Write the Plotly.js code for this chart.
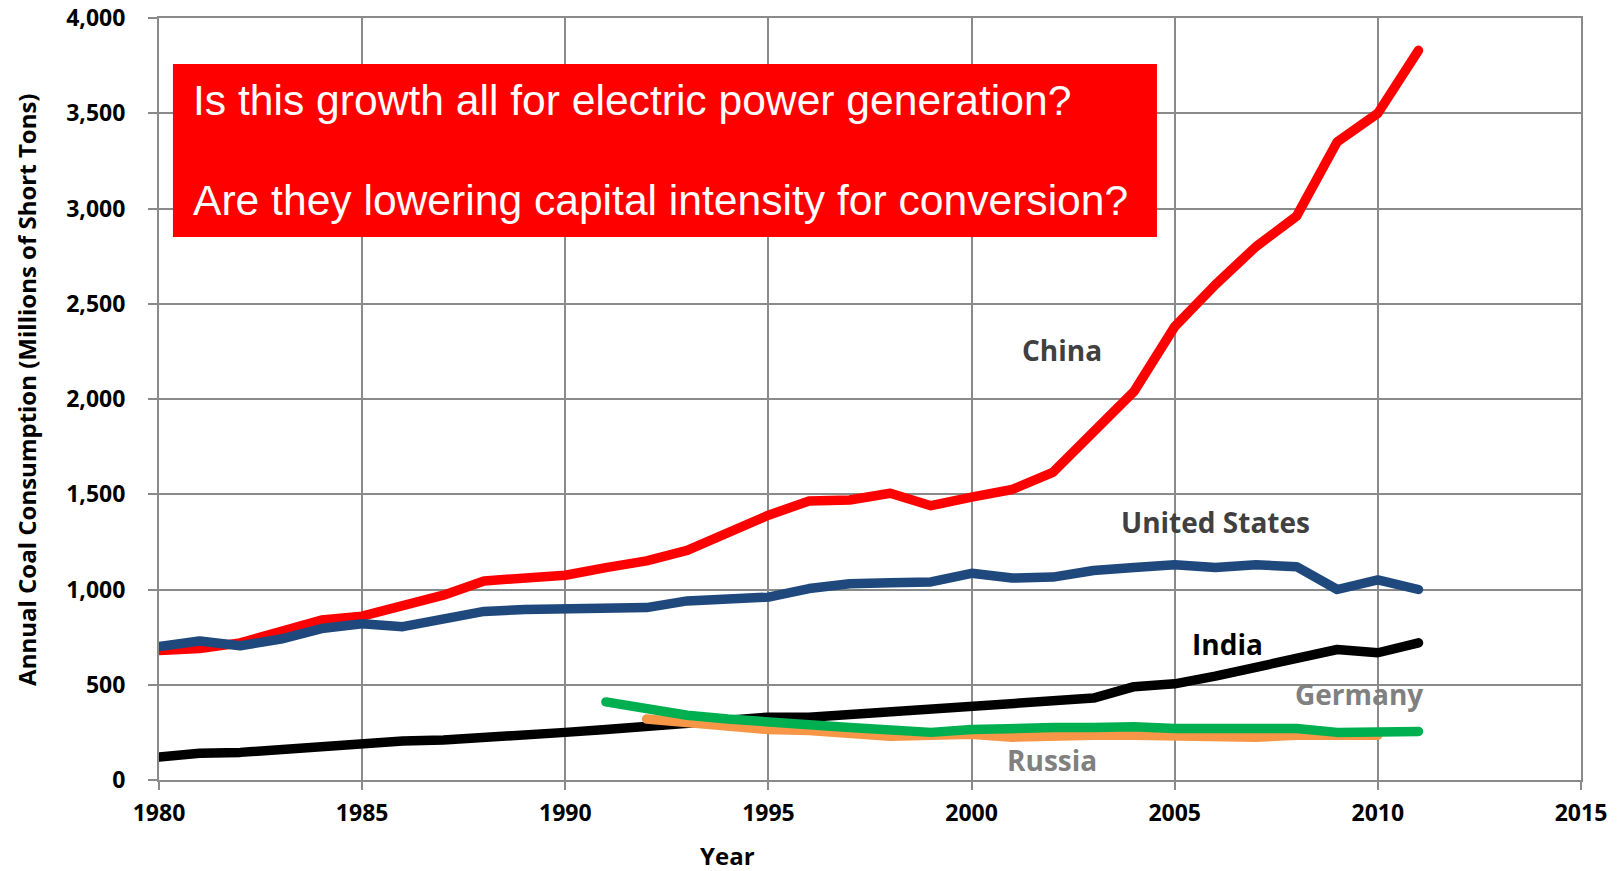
<!DOCTYPE html>
<html>
<head>
<meta charset="utf-8">
<script src="https://cdn.plot.ly/plotly-3.0.1.min.js"></script>
<style>
  html, body { margin: 0; padding: 0; background: #ffffff; }
  #chart { width: 1618px; height: 871px; }
  .scatterlayer .js-line { stroke-linejoin: round; stroke-linecap: round; }
</style>
</head>
<body>
<div id="chart"></div>
<script>
// Annual coal consumption, millions of short tons
const years = [1980, 1981, 1982, 1983, 1984, 1985, 1986, 1987, 1988, 1989,
               1990, 1991, 1992, 1993, 1994, 1995, 1996, 1997, 1998, 1999,
               2000, 2001, 2002, 2003, 2004, 2005, 2006, 2007, 2008, 2009,
               2010, 2011];
const china = [680, 690, 720, 780, 840, 860, 910, 970, 1045, 1060,
               1075, 1115, 1150, 1205, 1300, 1390, 1465, 1470, 1505, 1440,
               1485, 1525, 1615, 1835, 2040, 2380, 2600, 2800, 2960, 3350,
               3500, 3830];
const unitedStates = [700, 730, 705, 740, 795, 820, 805, 840, 885, 895,
                      900, 895, 905, 940, 950, 960, 1005, 1030, 1035, 1040,
                      1085, 1060, 1065, 1100, 1115, 1130, 1115, 1130, 1120, 1000,
                      1050, 1000];
const india = [120, 140, 145, 160, 185, 195, 205, 210, 220, 235,
               250, 265, 280, 295, 315, 330, 330, 345, 360, 380,
               395, 410, 415, 430, 490, 505, 545, 595, 645, 685,
               668, 720];
const germanyYears = [1991, 1992, 1993, 1994, 1995, 1996, 1997, 1998, 1999, 2000,
                      2001, 2002, 2003, 2004, 2005, 2006, 2007, 2008, 2009, 2010,
                      2011];
const germany = [410, 370, 340, 320, 300, 290, 275, 265, 250, 265,
                 275, 275, 275, 280, 270, 270, 280, 270, 250, 255,
                 255];
const russiaYears = [1992, 1993, 1994, 1995, 1996, 1997, 1998, 1999, 2000, 2001,
                     2002, 2003, 2004, 2005, 2006, 2007, 2008, 2009, 2010];
const russia = [320, 300, 280, 265, 260, 245, 230, 235, 240, 225,
                235, 235, 235, 230, 235, 225, 235, 230, 235];

const xTicks = [1980, 1985, 1990, 1995, 2000, 2005, 2010, 2015];
const yTicks = [0, 500, 1000, 1500, 2000, 2500, 3000, 3500, 4000];

const LINE_W = 9.5;
const GRID = '#8a8a8a';
const LABEL_FONT = 'Open Sans, Lato, sans-serif';

function series(x, y, color, name) {
  return {
    type: 'scatter', mode: 'lines', name: name,
    x: x, y: y,
    line: { color: color, width: LINE_W, shape: 'linear' },
    hoverinfo: 'skip', cliponaxis: true
  };
}

const traces = [
  series(years, china, '#ff0000', 'China'),
  series(years, unitedStates, '#1f497d', 'United States'),
  series(years, india, '#000000', 'India'),
  series(russiaYears, russia, '#f79646', 'Russia'),
  series(germanyYears, germany, '#00b050', 'Germany')
];

function seriesLabel(text, x, y, color) {
  return {
    text: text, x: x, y: y, xref: 'x', yref: 'y',
    showarrow: false, xanchor: 'center', yanchor: 'middle',
    font: { family: LABEL_FONT, size: 28, color: color, weight: 700 }
  };
}

const questionFont = { family: 'Liberation Sans, Arial, sans-serif', size: 42.6, color: '#ffffff' };
const axisTitleFont = { family: LABEL_FONT, size: 24, color: '#000000', weight: 700 };

const layout = {
  width: 1618, height: 871,
  margin: { l: 159, r: 37, t: 18, b: 91, pad: 0 },
  paper_bgcolor: '#ffffff', plot_bgcolor: '#ffffff',
  showlegend: false,
  hovermode: false,
  xaxis: {
    range: [1980, 2015],
    tickvals: xTicks,
    ticktext: xTicks.map(String),
    showgrid: true, gridcolor: GRID, gridwidth: 2,
    showline: true, linecolor: GRID, linewidth: 2, mirror: true,
    zeroline: false,
    ticks: 'outside', ticklen: 8, tickwidth: 2, tickcolor: GRID,
    ticklabelstandoff: 3,
    tickfont: { family: LABEL_FONT, size: 23, color: '#000000', weight: 700 }
  },
  yaxis: {
    range: [0, 4000],
    tickvals: yTicks,
    tickformat: ',d',
    showgrid: true, gridcolor: GRID, gridwidth: 2,
    showline: true, linecolor: GRID, linewidth: 2, mirror: true,
    zeroline: false,
    ticks: 'outside', ticklen: 9, tickwidth: 2, tickcolor: GRID,
    ticklabelstandoff: 18,
    tickfont: { family: LABEL_FONT, size: 23, color: '#000000', weight: 700 }
  },
  shapes: [
    {
      type: 'rect', xref: 'paper', yref: 'paper', layer: 'above',
      x0: 0.0098, x1: 0.7018, y0: 0.7126, y1: 0.9396,
      fillcolor: '#ff0000', line: { width: 0 }
    }
  ],
  annotations: [
    {
      text: 'Is this growth all for electric power generation?',
      xref: 'paper', yref: 'paper', x: 0.0225, y: 0.893,
      xanchor: 'left', yanchor: 'middle', showarrow: false, font: questionFont
    },
    {
      text: 'Are they lowering capital intensity for conversion?',
      xref: 'paper', yref: 'paper', x: 0.0225, y: 0.761,
      xanchor: 'left', yanchor: 'middle', showarrow: false, font: questionFont
    },
    {
      // y-axis title
      text: 'Annual Coal Consumption (Millions of Short Tons)',
      xref: 'paper', yref: 'paper', x: -0.0928, y: 0.512, textangle: -90,
      xanchor: 'center', yanchor: 'middle', showarrow: false, font: axisTitleFont
    },
    {
      // x-axis title
      text: 'Year', xref: 'paper', yref: 'paper', x: 0.3999, y: -0.1228,
      xanchor: 'center', yanchor: 'bottom', showarrow: false,
      font: { family: LABEL_FONT, size: 24, color: '#000000', weight: 700 }
    },
    seriesLabel('China', 2002.22, 2257, '#404040'),
    seriesLabel('United States', 2006.0, 1354, '#404040'),
    seriesLabel('India', 2006.29, 714, '#000000'),
    seriesLabel('Germany', 2009.53, 451, '#808080'),
    seriesLabel('Russia', 2001.98, 105, '#808080')
  ]
};

Plotly.newPlot('chart', traces, layout, { displayModeBar: false, staticPlot: true });
</script>
</body>
</html>
